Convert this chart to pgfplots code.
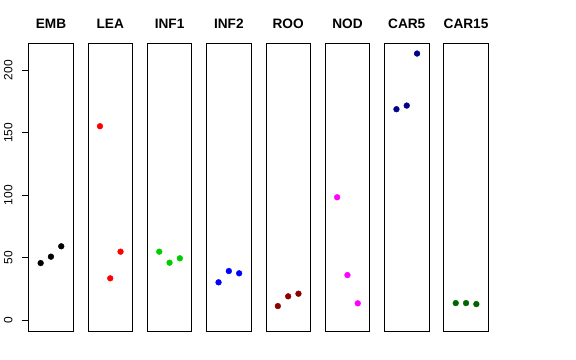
\documentclass[border=0pt]{standalone}
\usepackage{pgfplots}
\pgfplotsset{compat=1.18}
\usepackage{fontspec}
\setmainfont{Liberation Sans}
\definecolor{cEMB}{RGB}{0,0,0}
\definecolor{cLEA}{RGB}{255,0,0}
\definecolor{cINF1}{RGB}{0,205,0}
\definecolor{cINF2}{RGB}{0,0,255}
\definecolor{cROO}{RGB}{139,0,0}
\definecolor{cNOD}{RGB}{255,0,255}
\definecolor{cCAR5}{RGB}{0,0,139}
\definecolor{cCAR15}{RGB}{0,100,0}
\pgfplotsset{panel/.style={
  scale only axis, width=44.5bp, height=287.7bp,
  xmin=-0.16, xmax=4.16, ymin=-8.52, ymax=221.5,
  xtick=\empty, ytick=\empty,
  axis line style={line width=0.8bp},
  anchor=south west,
  title style={font=\fontsize{13.7}{15}\selectfont\bfseries, anchor=base, at={(0.5,1)}, yshift=9.3bp, inner sep=0pt},
}}
\newcommand{\panel}[4]{%
\begin{axis}[panel, at={(#1bp,29bp)}, title={#2}]
\addplot[only marks, mark=*, mark size=2.9bp, color=#3] coordinates {#4};
\end{axis}}
\begin{document}
\begin{tikzpicture}
\useasboundingbox (0,0) rectangle (576bp,360bp);
\begin{axis}[panel, at={(28.7bp,29bp)}, title={EMB},
  ytick={0,50,100,150,200}, ytick pos=left,
  tick align=outside, major tick length=7bp,
  tick style={line width=0.8bp, black},
  yticklabel shift=9bp,
  yticklabel style={rotate=90, anchor=south, inner sep=0pt, font=\fontsize{12}{14}\selectfont},
  /pgf/number format/assume math mode=true]
\addplot[only marks, mark=*, mark size=2.9bp, color=cEMB] coordinates {(1,45.8) (2,50.9) (3,59.2)};
\end{axis}
\panel{88.0}{LEA}{cLEA}{(1,155.2) (2,33.6) (3,54.9)}
\panel{147.3}{INF1}{cINF1}{(1,54.9) (2,46.1) (3,49.6)}
\panel{206.6}{INF2}{cINF2}{(1,30.4) (2,39.4) (3,37.6)}
\panel{265.9}{ROO}{cROO}{(1,11.4) (2,19.2) (3,21.3)}
\panel{325.2}{NOD}{cNOD}{(1,98.4) (2,36.2) (3,13.6)}
\panel{384.5}{CAR5}{cCAR5}{(1,168.8) (2,171.7) (3,213.3)}
\panel{443.8}{CAR15}{cCAR15}{(1,13.8) (2,13.8) (3,13.0)}
\end{tikzpicture}
\end{document}
